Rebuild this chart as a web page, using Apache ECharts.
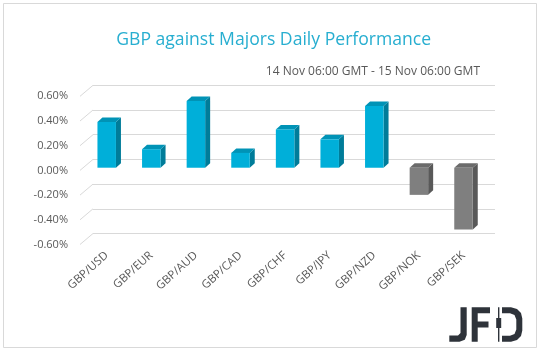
<!DOCTYPE html>
<html>
<head>
<meta charset="utf-8">
<script src="https://cdn.jsdelivr.net/npm/echarts@6/dist/echarts.min.js"></script>
<style>html,body{margin:0;padding:0;background:#fff;}#c{width:541px;height:354px;}</style>
</head>
<body>
<div id="c"></div>
<script>
const categories = ['GBP/USD','GBP/EUR','GBP/AUD','GBP/CAD','GBP/CHF','GBP/JPY','GBP/NZD','GBP/NOK','GBP/SEK'];
const values = [0.37, 0.15, 0.54, 0.12, 0.31, 0.23, 0.50, -0.22, -0.50];
const tickValues = [-0.6, -0.4, -0.2, 0, 0.2, 0.4, 0.6];
const titleText = 'GBP against Majors Daily Performance';
const subtitleText = '14 Nov 06:00 GMT - 15 Nov 06:00 GMT';

const FONT = '"Open Sans", "Segoe UI", sans-serif';
const chart = echarts.init(document.getElementById('c'), null, {renderer: 'canvas'});

const blue = {front: '#00AFD9', side: '#007C99', top: '#0093B6'};
const gray = {front: '#7F7F7F', side: '#595959', top: '#6B6B6B'};
const LOGO = '#2E333A';

const option = {
  backgroundColor: '#ffffff',
  animation: false,
  grid: [
    {left: 84.4, width: 401.4, top: 93.6, height: 148.2},
    {left: 93, width: 402, top: 85.3, height: 148.2},
    {left: 80, width: 402, top: 96.3, height: 148.2}
  ],
  xAxis: [
    {gridIndex: 0, type: 'category', data: categories,
     axisLine: {show: false}, axisTick: {show: false},
     axisLabel: {rotate: 42, margin: 12, color: '#595959', fontSize: 11.5, fontFamily: FONT, interval: 0}},
    {gridIndex: 1, type: 'value', min: 0, max: 1, show: false},
    {gridIndex: 2, type: 'value', min: 0, max: 1, show: false}
  ],
  yAxis: [
    {gridIndex: 0, type: 'value', min: -0.6, max: 0.6, show: false},
    {gridIndex: 1, type: 'value', min: -0.6, max: 0.6, interval: 0.2,
     axisLine: {show: false}, axisTick: {show: false}, axisLabel: {show: false},
     splitLine: {show: true, lineStyle: {color: '#D9D9D9', width: 1}}},
    {gridIndex: 2, type: 'value', min: -0.6, max: 0.6, interval: 0.2,
     axisLine: {show: false}, axisTick: {show: false}, splitLine: {show: false},
     axisLabel: {margin: 12, color: '#595959', fontSize: 11, fontFamily: FONT,
       formatter: v => v.toFixed(2) + '%'}}
  ],
  series: [
    {
      type: 'custom', xAxisIndex: 2, yAxisIndex: 2, silent: true,
      data: tickValues.map(v => [0, v]),
      renderItem: (params, api) => {
        const p = api.coord([0, api.value(1)]);
        return {type: 'line', shape: {x1: p[0], y1: p[1], x2: p[0] + 13, y2: p[1] - 11},
                style: {stroke: '#D9D9D9', lineWidth: 1}};
      }
    },
    {
      type: 'custom', xAxisIndex: 0, yAxisIndex: 0,
      data: values.map((v, i) => [i, v]),
      renderItem: (params, api) => {
        const i = api.value(0), v = api.value(1);
        const p0 = api.coord([i, 0]), p1 = api.coord([i, v]);
        const w = 18.5, dx = 5, dy = 4.5;
        const xl = p0[0] - w / 2, xr = p0[0] + w / 2;
        const yt = Math.min(p0[1], p1[1]), yb = Math.max(p0[1], p1[1]);
        const c = v >= 0 ? blue : gray;
        return {type: 'group', children: [
          {type: 'polygon', shape: {points: [[xr, yt], [xr + dx, yt - dy], [xr + dx, yb - dy], [xr, yb]]}, style: {fill: c.side}},
          {type: 'polygon', shape: {points: [[xl, yt], [xl + dx, yt - dy], [xr + dx, yt - dy], [xr, yt]]}, style: {fill: c.top}},
          {type: 'rect', shape: {x: xl, y: yt, width: w, height: yb - yt}, style: {fill: c.front}}
        ]};
      }
    }
  ],
  graphic: [
    {type: 'rect', shape: {x: 3.5, y: 3.5, width: 533, height: 344}, style: {fill: 'none', stroke: '#D9D9D9', lineWidth: 1}, z: 100},
    {type: 'text', x: 273.7, y: 40, style: {text: titleText, fill: '#27AED0', font: '17.6px ' + FONT, textAlign: 'center', textVerticalAlign: 'middle'}},
    {type: 'text', x: 480, y: 72, style: {text: subtitleText, fill: '#595959', font: '12px ' + FONT, textAlign: 'right', textVerticalAlign: 'middle'}},
    {type: 'polygon', shape: {points: [[460.5,307.3],[466.7,307.3],[466.7,335],[464.8,339.8],[459.5,341.7],[449.3,341.7],[449.3,335.5],[458,335.5],[460.5,333]]}, style: {fill: LOGO}},
    {type: 'polygon', shape: {points: [[471.7,307.3],[490,307.3],[490,313.3],[477.7,313.3],[477.7,321.5],[488.5,321.5],[488.5,327.5],[477.7,327.5],[477.7,341.7],[471.7,341.7]]}, style: {fill: LOGO}},
    {type: 'polygon', shape: {points: [[502,307.3],[511,307.3],[517,309],[521,313],[522.3,318.5],[522.3,330.5],[521,336],[517,340],[511,341.7],[502,341.7],[502,335.7],[510,335.7],[514.5,334],[516.3,329.5],[516.3,319.5],[514.5,315],[510,313.3],[502,313.3]]}, style: {fill: LOGO}},
    {type: 'rect', shape: {x: 498, y: 307.3, width: 1.4, height: 34.4}, style: {fill: LOGO}},
    {type: 'rect', shape: {x: 496.2, y: 318, width: 5, height: 10}, style: {fill: LOGO}}
  ]
};
chart.setOption(option);
</script>
</body>
</html>
